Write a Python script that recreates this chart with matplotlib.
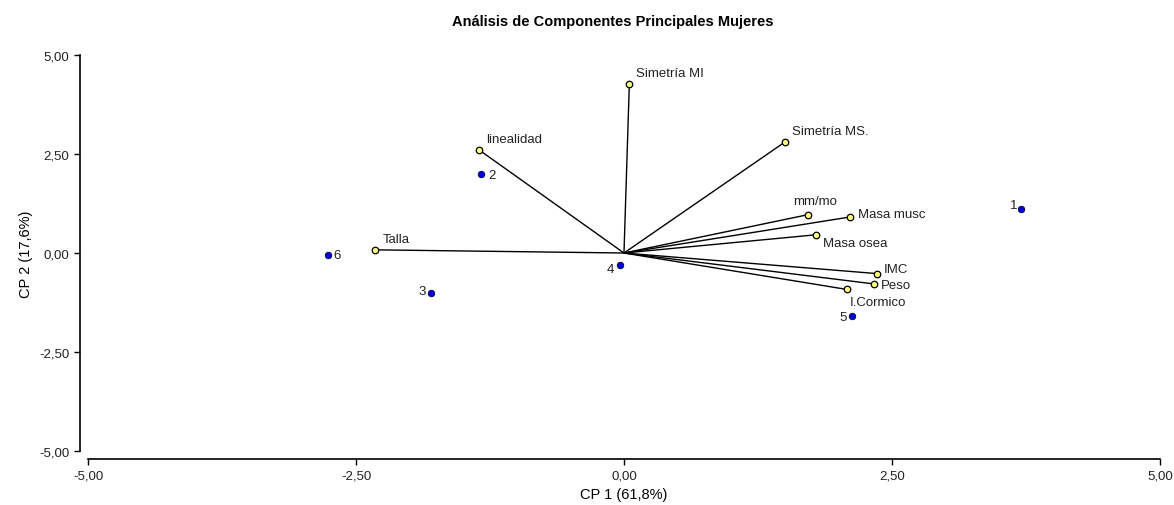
import matplotlib.pyplot as plt

plt.rcParams['font.family'] = ['Liberation Sans', 'DejaVu Sans']

# variables (loadings end points)
var_names = ['Simetría MI', 'Simetría MS.', 'linealidad', 'Talla', 'mm/mo',
             'Masa musc', 'Masa osea', 'IMC', 'Peso', 'I.Cormico']
var_x = [0.05, 1.50, -1.35, -2.32, 1.72, 2.11, 1.79, 2.36, 2.33, 2.08]
var_y = [4.27, 2.80, 2.60, 0.08, 0.97, 0.91, 0.46, -0.52, -0.78, -0.92]

# observations
obs_names = ['1', '2', '3', '4', '5', '6']
obs_x = [3.70, -1.33, -1.80, -0.04, 2.13, -2.76]
obs_y = [1.11, 2.00, -1.00, -0.30, -1.58, -0.05]

# label offsets in points (dx, dy, ha)
var_off = [(5, 8, 'left'), (5, 8, 'left'), (5, 8, 'left'), (5, 8, 'left'),
           (-11, 10, 'left'), (6, 2, 'left'), (5, -6, 'left'), (5, 3, 'left'),
           (5, -1, 'left'), (2, -9, 'left')]
obs_off = [(-2, 3, 'right'), (5, -1, 'left'), (-4, 1, 'right'),
           (-4, -3, 'right'), (-4, -1, 'right'), (4, 0, 'left')]

fig = plt.figure(figsize=(11.74, 5.06), dpi=100)
ax = fig.add_axes([0.075, 0.1067, 0.913, 0.7826])

for x, y in zip(var_x, var_y):
    ax.plot([0, x], [0, y], color='black', lw=1.0, zorder=1)
ax.scatter(var_x, var_y, s=22, color='#ffff80', edgecolor='black', lw=0.9, zorder=3)
ax.scatter(obs_x, obs_y, s=22, color='#0000dd', edgecolor='#000044', lw=0.6, zorder=3)

for name, x, y, (dx, dy, ha) in zip(var_names, var_x, var_y, var_off):
    ax.annotate(name, (x, y), xytext=(dx, dy), textcoords='offset points',
                ha=ha, va='center', fontsize=9.5, color='#222222')
for name, x, y, (dx, dy, ha) in zip(obs_names, obs_x, obs_y, obs_off):
    ax.annotate(name, (x, y), xytext=(dx, dy), textcoords='offset points',
                ha=ha, va='center', fontsize=9.5, color='#222222')

ax.set_xlim(-5, 5)
ax.set_ylim(-5, 5)
ticks = [-5, -2.5, 0, 2.5, 5]
tick_labels = ['-5,00', '-2,50', '0,00', '2,50', '5,00']
ax.set_xticks(ticks, tick_labels)
ax.set_yticks(ticks, tick_labels)
ax.tick_params(labelsize=9.5, length=4, width=1, colors='black', labelcolor='#222222')
for side in ['top', 'right']:
    ax.spines[side].set_visible(False)
for side in ['left', 'bottom']:
    ax.spines[side].set_position(('outward', 6))
    ax.spines[side].set_linewidth(1.2)

ax.set_xlabel('CP 1 (61,8%)', fontsize=10.5, labelpad=4)
ax.set_ylabel('CP 2 (17,6%)', fontsize=10.5, labelpad=4)
fig.text(613 / 1174, 1 - 22 / 506, 'Análisis de Componentes Principales Mujeres',
         ha='center', va='center', fontsize=10.5, fontweight='bold')

fig.savefig('out.png', dpi=100)
